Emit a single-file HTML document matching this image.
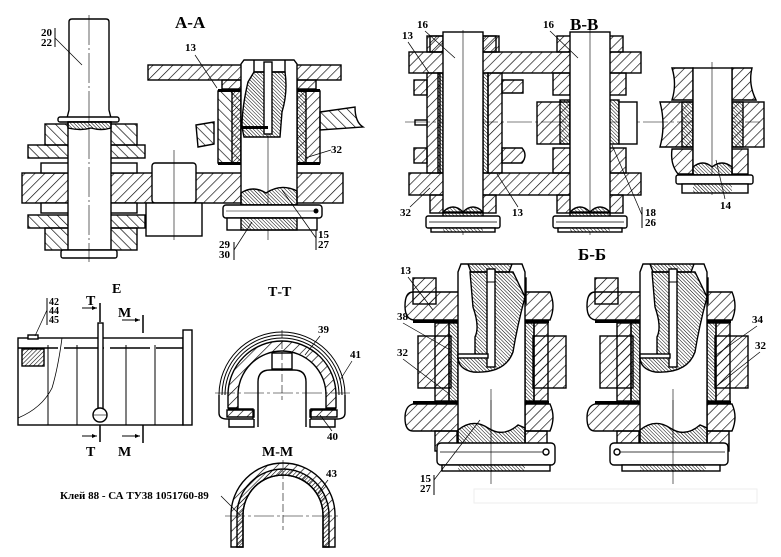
<!DOCTYPE html>
<html><head><meta charset="utf-8">
<style>
html,body{margin:0;padding:0;background:#fff;}
svg{display:block;}
svg rect, svg path, svg circle{stroke-width:1.4;}
text{font-family:"Liberation Serif","Noto Serif CJK SC",serif;font-weight:bold;fill:#000;}
</style></head>
<body>
<svg width="781" height="557" viewBox="0 0 781 557" xmlns="http://www.w3.org/2000/svg">
<defs>
<pattern id="h" width="7" height="7" patternUnits="userSpaceOnUse" patternTransform="rotate(45)"><line x1="0" y1="0" x2="0" y2="7" stroke="#000" stroke-width="1.3"/></pattern>
<pattern id="h2" width="7" height="7" patternUnits="userSpaceOnUse" patternTransform="rotate(-45)"><line x1="0" y1="0" x2="0" y2="7" stroke="#000" stroke-width="1.3"/></pattern>
<pattern id="f" width="2.5" height="2.5" patternUnits="userSpaceOnUse" patternTransform="rotate(-45)"><line x1="0" y1="0" x2="0" y2="2.5" stroke="#000" stroke-width="1"/></pattern>
<pattern id="f2" width="3" height="3" patternUnits="userSpaceOnUse" patternTransform="rotate(45)"><line x1="0" y1="0" x2="0" y2="3" stroke="#000" stroke-width="1.1"/></pattern>

<g id="bb">
  <rect x="-13" y="36" width="66" height="16" fill="url(#h)" stroke="#000"/>
  <rect x="-13" y="195" width="66" height="18" fill="url(#h)" stroke="#000"/>
  <rect x="0" y="32" width="40" height="180" fill="#fff" stroke="#000"/>
  <line x1="20" y1="30" x2="20" y2="235" stroke="#000" stroke-width="0.6"/>
  <path d="M0,212 q10,-10 20,0 q10,-10 20,0 v8 h-40z" fill="url(#f)" stroke="#000"/>
  <rect x="-17" y="216" width="74" height="12" rx="2" fill="#fff" stroke="#000"/>
  <line x1="-14" y1="222" x2="54" y2="222" stroke="#000" stroke-width="0.7"/>
  <rect x="-12" y="228" width="64" height="4" fill="#fff" stroke="#000"/>
  <rect x="0" y="228" width="40" height="4" fill="url(#f)"/>
</g>

<g id="bsec">
  <rect x="-45" y="-26" width="23" height="26" fill="url(#h)" stroke="#000"/>
  <rect x="45" y="-26" width="23" height="26" fill="url(#h)" stroke="#000"/>
  <path d="M-45,-12 q-8,0 -8,14 q0,14 10,14 h48 v-28z" fill="url(#h)" stroke="#000"/>
  <path d="M45,-12 v28 h47 q6,-14 0,-28z" fill="url(#h)" stroke="#000"/>
  <rect x="-45" y="16" width="46" height="3" fill="#000"/>
  <rect x="45" y="16" width="46" height="3" fill="#000"/>
  <rect x="-23" y="19" width="14" height="78" fill="url(#h)" stroke="#000"/>
  <rect x="-9" y="19" width="9" height="78" fill="url(#f)" stroke="#000"/>
  <rect x="67" y="19" width="9" height="78" fill="url(#f)" stroke="#000"/>
  <rect x="76" y="19" width="14" height="78" fill="url(#h)" stroke="#000"/>
  <rect x="-40" y="32" width="33" height="52" fill="url(#h)" stroke="#000"/>
  <rect x="75" y="32" width="33" height="52" fill="url(#h)" stroke="#000"/>
  <rect x="-45" y="97" width="46" height="3" fill="#000"/>
  <rect x="67" y="97" width="24" height="3" fill="#000"/>
  <path d="M-45,100 h46 v27 h-46 q-8,0 -8,-13 q0,-12 8,-14z" fill="url(#h)" stroke="#000"/>
  <path d="M67,100 h25 q6,13 0,27 h-25z" fill="url(#h)" stroke="#000"/>
  <rect x="-23" y="127" width="22" height="20" fill="url(#h)" stroke="#000"/>
  <rect x="67" y="127" width="22" height="20" fill="url(#h)" stroke="#000"/>
  <path d="M0,-32 l3,-8 h61 l3,8 v179 h-67z" fill="#fff" stroke="#000"/>
  <path d="M10,-40 l3,8 h38 l3,-8" fill="url(#f)" stroke="#000"/>
  <path d="M12,-32 h43 l12,25 q-8,30 -12,55 q-8,22 -40,20 q-15,-3 -15,-15 h17 v-20 q5,-10 -2,-30 z" fill="url(#f)" stroke="#000"/>
  <rect x="29" y="-35" width="8" height="98" fill="#fff" stroke="#000"/>
  <line x1="29" y1="-22" x2="37" y2="-22" stroke="#000"/>
  <rect x="0" y="50" width="30" height="4" fill="#fff" stroke="#000"/>
  <line x1="33" y1="85" x2="33" y2="180" stroke="#000" stroke-width="0.6"/>
  <path d="M0,126 q15,-12 30,-2 q15,10 30,-3 l7,3 v23 h-67z" fill="url(#f)" stroke="#000"/>
</g>
</defs>

<!-- A-A -->
<text x="175" y="28" font-size="17">А-А</text>
<rect x="148" y="65" width="193" height="15" fill="url(#h)" stroke="#000"/>
<rect x="22" y="173" width="321" height="30" fill="url(#h)" stroke="#000"/>
<rect x="28" y="145" width="117" height="13" fill="url(#h2)" stroke="#000"/>
<rect x="28" y="215" width="117" height="13" fill="url(#h2)" stroke="#000"/>
<rect x="45" y="124" width="92" height="21" fill="url(#h2)" stroke="#000"/>
<rect x="45" y="228" width="92" height="22" fill="url(#h2)" stroke="#000"/>
<rect x="41" y="163" width="96" height="10" fill="#fff" stroke="#000"/>
<rect x="41" y="203" width="96" height="10" fill="#fff" stroke="#000"/>
<path d="M69,22 q0,-3 3,-3 h34 q3,0 3,3 v88 l2,8 h-44 l2,-8z" fill="#fff" stroke="#000"/>
<rect x="58" y="117" width="61" height="5" rx="2" fill="#fff" stroke="#000"/>
<rect x="68" y="122" width="43" height="128" fill="#fff" stroke="#000"/>
<path d="M68,122 h43 v6 q-10,3 -20,0 q-10,3 -23,0z" fill="url(#f)" stroke="#000"/>
<rect x="61" y="250" width="56" height="8" rx="2" fill="#fff" stroke="#000"/>
<line x1="89" y1="15" x2="89" y2="262" stroke="#000" stroke-width="0.6" stroke-dasharray="30,3,2,3"/>
<rect x="152" y="163" width="44" height="40" rx="3" fill="#fff" stroke="#000"/>
<rect x="146" y="203" width="56" height="33" fill="#fff" stroke="#000"/>
<line x1="174" y1="150" x2="174" y2="240" stroke="#000" stroke-width="0.6"/>
<path d="M196,125 l18,-3 v22 l-16,3z" fill="url(#h2)" stroke="#000"/>
<path d="M320,112 l35,-5 q0,15 8,20 l-43,3z" fill="url(#h2)" stroke="#000"/>
<rect x="218" y="91" width="23" height="72" fill="url(#h2)" stroke="#000"/>
<rect x="232" y="91" width="9" height="72" fill="url(#f2)" stroke="#000"/>
<rect x="297" y="91" width="23" height="72" fill="url(#h)" stroke="#000"/>
<rect x="297" y="91" width="9" height="72" fill="url(#f)" stroke="#000"/>
<rect x="218" y="89" width="23" height="3" fill="#000"/><rect x="297" y="89" width="23" height="3" fill="#000"/>
<rect x="218" y="162" width="23" height="3" fill="#000"/><rect x="297" y="162" width="23" height="3" fill="#000"/>
<rect x="222" y="80" width="19" height="9" fill="url(#h)" stroke="#000"/>
<rect x="297" y="80" width="19" height="9" fill="url(#h)" stroke="#000"/>
<path d="M241,64 l3,-4 h50 l3,4 v141 h-56z" fill="#fff" stroke="#000"/>
<path d="M254,60 v12 h31 v-12" fill="none" stroke="#000"/>
<path d="M254,72 h31 q3,20 -3,40 q-2,25 -2,25 h-36 l-2,-10 q0,-20 6,-45z" fill="url(#f)" stroke="#000"/>
<rect x="264" y="62" width="8" height="72" fill="#fff" stroke="#000"/>
<rect x="241" y="126" width="27" height="3" fill="#000"/>
<line x1="268" y1="134" x2="268" y2="240" stroke="#000" stroke-width="0.6"/>
<path d="M241,205 v-12 q12,-8 25,0 q15,-10 31,-2 v14z" fill="url(#f)" stroke="#000"/>
<rect x="223" y="205" width="99" height="13" rx="3" fill="#fff" stroke="#000"/>
<circle cx="316" cy="211" r="2.5" fill="#000"/>
<line x1="226" y1="211" x2="314" y2="211" stroke="#000" stroke-width="0.6"/>
<rect x="227" y="218" width="90" height="12" fill="#fff" stroke="#000"/>
<rect x="241" y="218" width="56" height="12" fill="url(#f)" stroke="#000"/>
<text x="41" y="36" font-size="11">20</text><text x="41" y="46" font-size="11">22</text>
<line x1="55" y1="28" x2="55" y2="47" stroke="#000"/><line x1="55" y1="38" x2="82" y2="65" stroke="#000" stroke-width="0.7"/>
<text x="185" y="51" font-size="11">13</text><line x1="195" y1="55" x2="217" y2="88" stroke="#000" stroke-width="0.7"/>
<text x="331" y="153" font-size="11">32</text><line x1="331" y1="150" x2="305" y2="158" stroke="#000" stroke-width="0.7"/>
<text x="318" y="238" font-size="11">15</text><text x="318" y="248" font-size="11">27</text>
<line x1="316" y1="230" x2="316" y2="250" stroke="#000"/><line x1="316" y1="238" x2="282" y2="190" stroke="#000" stroke-width="0.7"/>
<text x="219" y="248" font-size="11">29</text><text x="219" y="258" font-size="11">30</text>
<line x1="234" y1="242" x2="234" y2="260" stroke="#000"/><line x1="234" y1="250" x2="252" y2="222" stroke="#000" stroke-width="0.7"/>

<!-- B-B -->
<text x="570" y="30" font-size="17">В-В</text>
<rect x="409" y="52" width="232" height="21" fill="url(#h)" stroke="#000"/>
<rect x="409" y="173" width="232" height="22" fill="url(#h)" stroke="#000"/>
<rect x="427" y="73" width="13" height="100" fill="url(#h)" stroke="#000"/>
<rect x="438" y="73" width="5" height="100" fill="url(#f)" stroke="#000"/>
<rect x="483" y="73" width="5" height="100" fill="url(#f)" stroke="#000"/>
<rect x="488" y="73" width="14" height="100" fill="url(#h)" stroke="#000"/>
<rect x="414" y="80" width="13" height="15" fill="url(#h)" stroke="#000"/>
<rect x="414" y="148" width="13" height="15" fill="url(#h)" stroke="#000"/>
<path d="M502,80 h21 v13 h-21z" fill="url(#h)" stroke="#000"/>
<path d="M502,148 h20 q6,7 0,15 h-20z" fill="url(#h)" stroke="#000"/>
<rect x="415" y="120" width="12" height="5" fill="#fff" stroke="#000"/>
<line x1="405" y1="122" x2="760" y2="122" stroke="#000" stroke-width="0.6" stroke-dasharray="25,3,3,3"/>
<rect x="537" y="102" width="33" height="42" fill="url(#h)" stroke="#000"/>
<rect x="560" y="100" width="10" height="44" fill="url(#f)" stroke="#000"/>
<rect x="609" y="100" width="10" height="44" fill="url(#f)" stroke="#000"/>
<rect x="619" y="102" width="18" height="42" fill="#fff" stroke="#000"/>
<rect x="553" y="73" width="17" height="22" fill="url(#h)" stroke="#000"/>
<rect x="609" y="73" width="17" height="22" fill="url(#h)" stroke="#000"/>
<rect x="553" y="148" width="17" height="25" fill="url(#h)" stroke="#000"/>
<rect x="609" y="148" width="17" height="25" fill="url(#h)" stroke="#000"/>
<rect x="427" y="36" width="16" height="16" fill="url(#h)" stroke="#000"/>
<rect x="483" y="36" width="16" height="16" fill="url(#h)" stroke="#000"/>
<use href="#bb" x="443" y="0"/>
<use href="#bb" x="570" y="0"/>
<path d="M672,68 h21 v32 h-21 q5,-16 0,-32z" fill="url(#h)" stroke="#000"/>
<path d="M732,68 h20 q-4,16 4,32 h-24z" fill="url(#h)" stroke="#000"/>
<path d="M660,102 h33 v45 h-33 q6,-22 0,-45z" fill="url(#h)" stroke="#000"/>
<rect x="682" y="102" width="11" height="45" fill="url(#f)" stroke="#000"/>
<rect x="732" y="102" width="32" height="45" fill="url(#h)" stroke="#000"/>
<rect x="732" y="102" width="11" height="45" fill="url(#f)" stroke="#000"/>
<path d="M672,149 h21 v25 h-15 q-8,-10 -6,-25z" fill="url(#h)" stroke="#000"/>
<rect x="732" y="149" width="16" height="25" fill="url(#h)" stroke="#000"/>
<rect x="693" y="68" width="39" height="107" fill="#fff" stroke="#000"/>
<line x1="712" y1="62" x2="712" y2="195" stroke="#000" stroke-width="0.6"/>
<path d="M693,175 v-8 q10,-8 19,0 q10,-8 20,0 v8z" fill="url(#f)" stroke="#000"/>
<rect x="676" y="175" width="77" height="9" rx="2" fill="#fff" stroke="#000"/>
<rect x="682" y="184" width="66" height="9" fill="#fff" stroke="#000"/>
<rect x="693" y="184" width="39" height="9" fill="url(#f)"/>
<text x="417" y="28" font-size="11">16</text><line x1="425" y1="31" x2="455" y2="58" stroke="#000" stroke-width="0.7"/>
<text x="543" y="28" font-size="11">16</text><line x1="550" y1="31" x2="578" y2="58" stroke="#000" stroke-width="0.7"/>
<text x="402" y="39" font-size="11">13</text><line x1="408" y1="42" x2="429" y2="73" stroke="#000" stroke-width="0.7"/>
<text x="400" y="216" font-size="11">32</text><line x1="410" y1="207" x2="430" y2="188" stroke="#000" stroke-width="0.7"/>
<text x="512" y="216" font-size="11">13</text><line x1="518" y1="207" x2="497" y2="174" stroke="#000" stroke-width="0.7"/>
<text x="645" y="216" font-size="11">18</text><text x="645" y="226" font-size="11">26</text>
<line x1="642" y1="207" x2="642" y2="228" stroke="#000"/><line x1="642" y1="215" x2="612" y2="145" stroke="#000" stroke-width="0.7"/>
<text x="720" y="209" font-size="11">14</text><line x1="725" y1="199" x2="716" y2="160" stroke="#000" stroke-width="0.7"/>

<!-- E -->
<text x="112" y="293" font-size="14">Е</text>
<rect x="18" y="338" width="165" height="87" fill="#fff" stroke="#000"/>
<rect x="183" y="330" width="9" height="95" fill="#fff" stroke="#000"/>
<line x1="18" y1="348" x2="183" y2="348" stroke="#000" stroke-width="1.5" stroke-dasharray="40,6"/>
<line x1="48" y1="345" x2="48" y2="425" stroke="#000"/>
<line x1="77" y1="345" x2="77" y2="425" stroke="#000"/>
<line x1="126" y1="345" x2="126" y2="425" stroke="#000"/>
<line x1="155" y1="345" x2="155" y2="425" stroke="#000"/>
<path d="M62,338 q-4,30 -10,50 q-10,20 -34,30" fill="none" stroke="#000" style="stroke-width:0.8"/>
<rect x="22" y="349" width="22" height="17" fill="url(#f2)" stroke="#000"/>
<rect x="28" y="335" width="10" height="4" fill="#fff" stroke="#000"/>
<rect x="98" y="323" width="5" height="90" fill="#fff" stroke="#000"/>
<circle cx="100" cy="415" r="7" fill="#fff" stroke="#000"/>
<line x1="93" y1="415" x2="107" y2="415" stroke="#000" stroke-width="0.6"/>
<line x1="100" y1="303" x2="100" y2="322" stroke="#000" stroke-width="1.5"/>
<line x1="100" y1="425" x2="100" y2="442" stroke="#000" stroke-width="1.5"/>
<line x1="143" y1="315" x2="143" y2="333" stroke="#000" stroke-width="1.5"/>
<line x1="143" y1="425" x2="143" y2="443" stroke="#000" stroke-width="1.5"/>
<text x="86" y="305" font-size="14">Т</text><line x1="82" y1="308" x2="97" y2="308" stroke="#000"/><path d="M97,308 l-5,-2 v4z"/>
<text x="118" y="317" font-size="14">М</text><line x1="122" y1="320" x2="140" y2="320" stroke="#000"/><path d="M140,320 l-5,-2 v4z"/>
<text x="86" y="456" font-size="14">Т</text><line x1="82" y1="436" x2="97" y2="436" stroke="#000"/><path d="M97,436 l-5,-2 v4z"/>
<text x="118" y="456" font-size="14">М</text><line x1="122" y1="436" x2="140" y2="436" stroke="#000"/><path d="M140,436 l-5,-2 v4z"/>
<text x="49" y="305" font-size="10">42</text><text x="49" y="314" font-size="10">44</text><text x="49" y="323" font-size="10">45</text>
<line x1="47" y1="298" x2="47" y2="325" stroke="#000"/><line x1="47" y1="310" x2="35" y2="336" stroke="#000" stroke-width="0.7"/>

<!-- T-T -->
<text x="268" y="296" font-size="14">Т-Т</text>
<path d="M219,395 a63,63 0 0 1 126,0" fill="none" stroke="#000" style="stroke-width:1"/>
<path d="M222,395 a60,60 0 0 1 120,0" fill="none" stroke="#000" style="stroke-width:1"/>
<path d="M225,395 a57,57 0 0 1 114,0" fill="none" stroke="#000" style="stroke-width:1"/>
<path d="M228,408 v-13 a54,54 0 0 1 108,0 v13 h-10 v-13 a44,44 0 0 0 -88,0 v13z" fill="url(#h)" stroke="#000"/>
<path d="M219,395 v18 q0,6 8,6 h26 v-10 h-25" fill="none" stroke="#000"/>
<path d="M345,395 v18 q0,6 -8,6 h-26 v-10 h25" fill="none" stroke="#000"/>
<path d="M227,410 h27 v7 h-27z" fill="url(#h)" stroke="#000"/>
<path d="M310,410 h27 v7 h-27z" fill="url(#h)" stroke="#000"/>
<path d="M229,419 v8 h25 v-8 M335,419 v8 h-25 v-8" fill="none" stroke="#000"/>
<path d="M258,427 v-45 q0,-12 12,-12 h24 q12,0 12,12 v45" fill="#fff" stroke="#000"/>
<rect x="272" y="353" width="20" height="16" fill="#fff" stroke="#000"/>
<line x1="282" y1="330" x2="282" y2="400" stroke="#000" stroke-width="0.6" stroke-dasharray="8,3"/>
<line x1="215" y1="393" x2="350" y2="393" stroke="#000" stroke-width="0.6" stroke-dasharray="20,3,3,3"/>
<text x="318" y="333" font-size="11">39</text><line x1="320" y1="336" x2="305" y2="355" stroke="#000" stroke-width="0.7"/>
<text x="350" y="358" font-size="11">41</text><line x1="352" y1="361" x2="340" y2="380" stroke="#000" stroke-width="0.7"/>
<text x="327" y="440" font-size="11">40</text><line x1="332" y1="431" x2="320" y2="415" stroke="#000" stroke-width="0.7"/>

<!-- M-M -->
<text x="262" y="456" font-size="14">М-М</text>
<path d="M231,547 v-32 a52,52 0 0 1 104,0 v32 h-12 v-32 a40,40 0 0 0 -80,0 v32z" fill="url(#h)" stroke="#000"/>
<path d="M237,547 v-32 a46,46 0 0 1 92,0 v32 h-6 v-32 a40,40 0 0 0 -80,0 v32z" fill="url(#f2)" stroke="#000"/>
<line x1="283" y1="460" x2="283" y2="530" stroke="#000" stroke-width="0.6" stroke-dasharray="8,3"/>
<line x1="225" y1="516" x2="340" y2="516" stroke="#000" stroke-width="0.6" stroke-dasharray="20,3,3,3"/>
<text x="326" y="477" font-size="11">43</text><line x1="328" y1="480" x2="318" y2="493" stroke="#000" stroke-width="0.7"/>
<text x="60" y="499" font-size="11">Клей 88 - СА ТУ38 1051760-89</text>
<line x1="221" y1="496" x2="240" y2="515" stroke="#000" stroke-width="0.7"/>

<!-- Б-Б -->
<text x="578" y="260" font-size="17">Б-Б</text>
<use href="#bsec" x="458" y="304"/>
<use href="#bsec" x="640" y="304"/>
<rect x="437" y="443" width="118" height="22" rx="4" fill="#fff" stroke="#000"/>
<line x1="440" y1="452" x2="548" y2="452" stroke="#000" stroke-width="0.7"/>
<circle cx="546" cy="452" r="3" fill="#fff" stroke="#000"/>
<rect x="442" y="465" width="108" height="6" fill="#fff" stroke="#000"/>
<rect x="458" y="465" width="67" height="6" fill="url(#f)"/>
<line x1="491" y1="400" x2="491" y2="472" stroke="#000" stroke-width="0.6"/>
<rect x="610" y="443" width="118" height="22" rx="4" fill="#fff" stroke="#000"/>
<line x1="616" y1="452" x2="725" y2="452" stroke="#000" stroke-width="0.7"/>
<circle cx="617" cy="452" r="3" fill="#fff" stroke="#000"/>
<rect x="622" y="465" width="98" height="6" fill="#fff" stroke="#000"/>
<rect x="640" y="465" width="66" height="6" fill="url(#f)"/>
<line x1="673" y1="400" x2="673" y2="472" stroke="#000" stroke-width="0.6"/>
<text x="400" y="274" font-size="11">13</text><line x1="408" y1="277" x2="433" y2="310" stroke="#000" stroke-width="0.7"/>
<text x="397" y="320" font-size="11">38</text><line x1="403" y1="323" x2="450" y2="350" stroke="#000" stroke-width="0.7"/>
<text x="397" y="356" font-size="11">32</text><line x1="403" y1="359" x2="448" y2="393" stroke="#000" stroke-width="0.7"/>
<text x="420" y="482" font-size="11">15</text><text x="420" y="492" font-size="11">27</text>
<line x1="434" y1="475" x2="434" y2="495" stroke="#000"/><line x1="434" y1="480" x2="480" y2="420" stroke="#000" stroke-width="0.7"/>
<text x="752" y="323" font-size="11">34</text><line x1="757" y1="326" x2="716" y2="355" stroke="#000" stroke-width="0.7"/>
<text x="755" y="349" font-size="11">32</text><line x1="760" y1="352" x2="718" y2="385" stroke="#000" stroke-width="0.7"/>
<rect x="474" y="489" width="283" height="14" fill="none" stroke="#eee" style="stroke-width:1"/>
</svg>
</body></html>
